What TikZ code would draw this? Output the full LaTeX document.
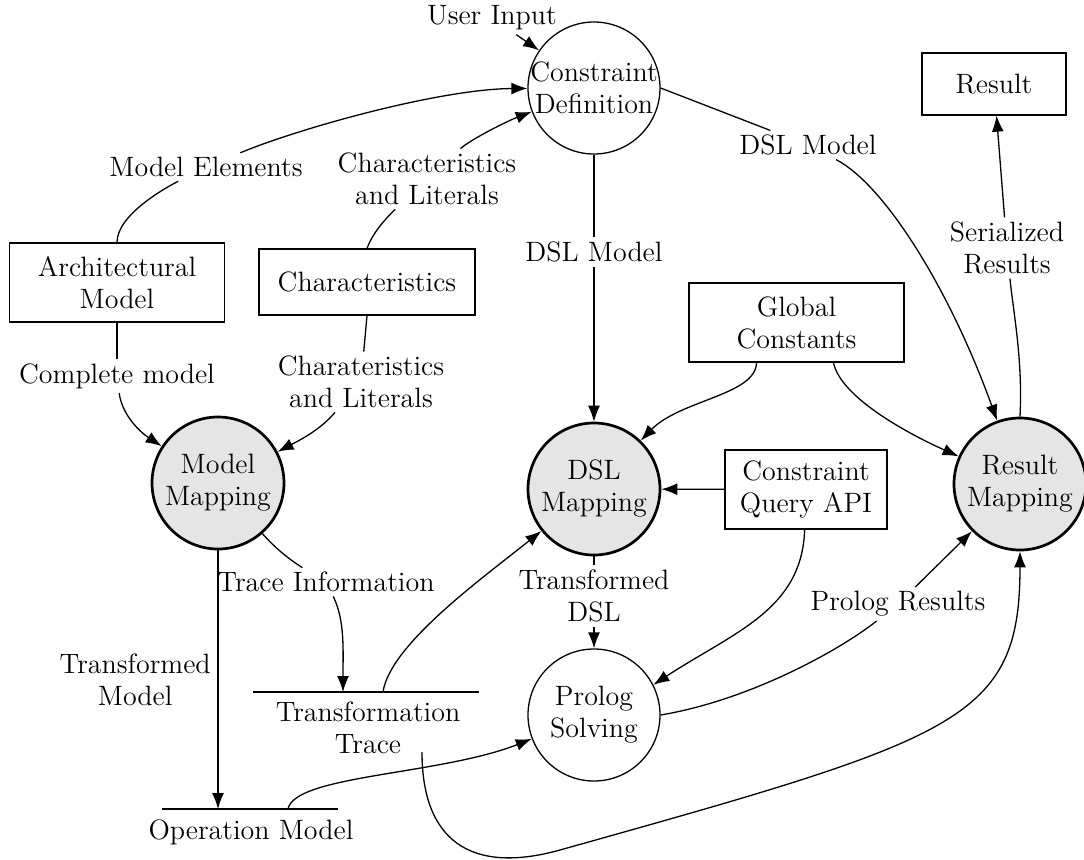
\documentclass[tikz,border=0pt]{standalone}
\usepackage{fontspec}
\usepackage{tikz}
\usetikzlibrary{arrows.meta}
\usetikzlibrary{positioning}

\begin{document}
\begin{tikzpicture}[x=0.5pt, y=-0.5pt,
	every node/.style={font=\fontsize{14}{16}\selectfont, align=center},
	proc/.style={circle, draw=black, line width=0.65pt, minimum size=66pt, inner sep=-2.5pt},
	mapping/.style={proc, line width=1.35pt, fill=black!10},
	entity/.style={rectangle, draw=black, line width=0.65pt},
	lbl/.style={inner sep=2pt},
	flow/.style={line width=0.65pt, -{Latex[length=8pt,width=6pt]}},
	link/.style={line width=0.65pt}]
	\useasboundingbox (0,0) rectangle (1084,859);

	\node[proc] (cdef) at (594,88) {Constraint\\Definition};
	\node[mapping] (mmap) at (218,483) {Model\\Mapping};
	\node[mapping] (dmap) at (594,489) {DSL\\Mapping};
	\node[mapping] (rmap) at (1020,484) {Result\\Mapping};
	\node[proc] (plog) at (594,715) {Prolog\\Solving};

	\node[entity, minimum width=107.5pt, minimum height=39.5pt] (arch) at (117,282.5) {Architectural\\Model};
	\node[entity, minimum width=108pt, minimum height=33pt] (chars) at (367,282) {Characteristics};
	\node[entity, minimum width=107.5pt, minimum height=39.5pt] (glob) at (796.5,322.5) {Global\\Constants};
	\node[entity, minimum width=81pt, minimum height=39.5pt] (cq) at (806,489.5) {Constraint\\Query API};
	\node[entity, minimum width=72pt, minimum height=31pt] (res) at (994,84) {Result};

	\node[lbl] (uin) at (492,18) {User Input};
	\node (ttrace) at (368,727.5) {Transformation\\Trace};
	\node (opm) at (251,832) {Operation Model};
	\coordinate (ttl) at (253,692);
	\coordinate (ttr) at (479,692);
	\coordinate (ttin) at (343,692);
	\coordinate (ttout) at (383,692);
	\coordinate (ttbot) at (422,752);
	\coordinate (opl) at (162,809);
	\coordinate (opr) at (338,809);
	\coordinate (opin) at (mmap |- opl);
	\coordinate (opout) at (288,809);
	\draw[link] (ttl) -- (ttr);
	\draw[link] (opl) -- (opr);

	\node[lbl] (lme) at (206,167) {Model Elements};
	\node[lbl] (lcl1) at (427,179) {Characteristics\\and Literals};
	\node[lbl] (ldsl1) at (594,252) {DSL Model};
	\node[lbl] (ldsl2) at (808,145) {DSL Model};
	\node[lbl] (lser) at (1007,248) {Serialized\\Results};
	\node[lbl] (lcm) at (117,376) {Complete model};
	\node[lbl] (lcl2) at (361,382) {Charateristics\\and Literals};
	\node[lbl] (lti) at (326,582) {Trace Information};
	\node[lbl] (ltd) at (594,596) {Transformed\\DSL};
	\node[lbl] (lpr) at (898,604) {Prolog Results};

	\draw[flow] (uin) -- (cdef);
	\draw[link] (arch.north) .. controls (117,215) and (165,188) .. (lme);
	\draw[flow] (lme) .. controls (300,128) and (440,89) .. (cdef);
	\draw[link] (chars.north) .. controls (372,235) and (382,222) .. (lcl1);
	\draw[flow] (lcl1) .. controls (470,140) and (505,122) .. (cdef);
	\draw[link] (cdef) -- (ldsl1);
	\draw[flow] (ldsl1) -- (dmap);
	\draw[link] (cdef.east) -- (ldsl2);
	\draw[flow] (ldsl2) .. controls (885,185) and (950,290) .. (rmap);
	\draw[link] (rmap.north) .. controls (1023,360) and (1013,310) .. (lser);
	\draw[flow] (lser) -- (res);

	\draw[link] (arch.south) -- (lcm);
	\draw[flow] (lcm) .. controls (122,415) and (140,432) .. (mmap);
	\draw[link] (chars.south) -- (lcl2);
	\draw[flow] (lcl2) .. controls (320,430) and (300,440) .. (mmap);
	\draw[flow] (mmap) -- (opin) node[midway, left] (ltm) {Transformed\\Model};
	\draw[link] (mmap) .. controls (275,548) and (290,560) .. (lti);
	\draw[flow] (lti) .. controls (345,620) and (343,650) .. (ttin);
	\draw[flow] (ttout) .. controls (390,645) and (480,580) .. (dmap);

	\draw[link] (dmap) -- (ltd);
	\draw[flow] (ltd) -- (plog);
	\draw[flow] (cq) -- (dmap);
	\draw[flow] ([xshift=-20pt]glob.south) .. controls (756,395) and (680,400) .. (dmap);
	\draw[flow] ([xshift=18.5pt]glob.south) .. controls (840,395) and (900,430) .. (rmap);
	\draw[flow] (cq) .. controls (802,610) and (734,632) .. (plog.27);
	\draw[link] (plog.east) .. controls (750,700) and (840,650) .. (lpr);
	\draw[flow] (lpr) -- (rmap);
	\draw[flow] (opout) .. controls (295,775) and (440,775) .. (plog.201);
	\draw[flow] (ttbot) .. controls (422,840) and (470,875) .. (560,850) .. controls (960,738) and (1020,720) .. (rmap);
\end{tikzpicture}
\end{document}
